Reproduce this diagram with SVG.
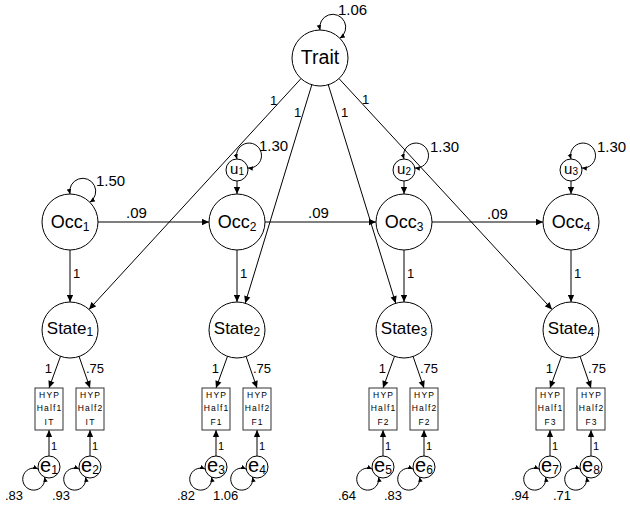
<svg xmlns="http://www.w3.org/2000/svg" width="630" height="506" viewBox="0 0 630 506">
<defs>
<marker id="ah" viewBox="0 0 10 10" refX="10" refY="5" markerWidth="8" markerHeight="7" markerUnits="userSpaceOnUse" orient="auto-start-reverse"><path d="M0,0.5 L10,5 L0,9.5 z" fill="#000"/></marker>
<marker id="sm" viewBox="0 0 10 10" refX="10" refY="5" markerWidth="5" markerHeight="5" markerUnits="userSpaceOnUse" orient="auto-start-reverse"><path d="M0,0.5 L10,5 L0,9.5 z" fill="#000"/></marker>
<style>
text{font-family:"Liberation Sans",Arial,sans-serif;fill:#000}
.c{fill:#fff;stroke:#000;stroke-width:1}
.b{fill:#fff;stroke:#333;stroke-width:1}
.ln{fill:none;stroke:#000;stroke-width:1;marker-end:url(#ah)}
.lp{fill:none;stroke:#000;stroke-width:1;marker-start:url(#sm);marker-end:url(#sm)}
.big{font-size:18px;text-anchor:middle}
.st{font-size:17px;text-anchor:middle}
.sub{font-size:12px}
.ee{font-size:20px;text-anchor:middle}
.uu{font-size:15px;text-anchor:middle}
.bx{font-size:8.5px;text-anchor:middle;letter-spacing:1.2px}
.v{font-size:15px}
.s{font-size:13px}
.t{font-size:11px}
</style>
</defs>
<g id="connectors">
<path class="lp" d="M320,30 A13 13 0 1 1 339.8,38.2"/>
<path class="lp" d="M70,194 A13 13 0 1 1 89.8,202.2"/>
<path class="lp" d="M237,159 A12.5 12.5 0 1 1 247.8,168"/>
<path class="lp" d="M404,159 A12.5 12.5 0 1 1 414.8,168"/>
<path class="lp" d="M571,159 A12.5 12.5 0 1 1 581.8,168"/>
<line class="ln" x1="301" y1="78.6" x2="89" y2="309.4"/>
<line class="ln" x1="311.8" y1="84.8" x2="245.2" y2="303.2"/>
<line class="ln" x1="328.3" y1="84.8" x2="395.7" y2="303.2"/>
<line class="ln" x1="339" y1="78.6" x2="552" y2="309.4"/>
<line class="ln" x1="98" y1="222" x2="209" y2="222"/>
<line class="ln" x1="265" y1="222" x2="376" y2="222"/>
<line class="ln" x1="432" y1="222" x2="543" y2="222"/>
<line class="ln" x1="237" y1="181" x2="237" y2="194"/>
<line class="ln" x1="404" y1="181" x2="404" y2="194"/>
<line class="ln" x1="571" y1="181" x2="571" y2="194"/>
<line class="ln" x1="70" y1="250" x2="70" y2="302"/>
<line class="ln" x1="237" y1="250" x2="237" y2="302"/>
<line class="ln" x1="404" y1="250" x2="404" y2="302"/>
<line class="ln" x1="571" y1="250" x2="571" y2="302"/>
<line class="ln" x1="60.5" y1="356.3" x2="49" y2="388"/>
<line class="ln" x1="79.1" y1="356.5" x2="90" y2="388"/>
<line class="ln" x1="227.5" y1="356.3" x2="216" y2="388"/>
<line class="ln" x1="246.1" y1="356.5" x2="257" y2="388"/>
<line class="ln" x1="394.5" y1="356.3" x2="383" y2="388"/>
<line class="ln" x1="413.1" y1="356.5" x2="424" y2="388"/>
<line class="ln" x1="561.5" y1="356.3" x2="550" y2="388"/>
<line class="ln" x1="580.1" y1="356.5" x2="591" y2="388"/>
<line class="ln" x1="49" y1="456" x2="49" y2="430"/>
<line class="ln" x1="90" y1="456" x2="90" y2="430"/>
<line class="ln" x1="216" y1="456" x2="216" y2="430"/>
<line class="ln" x1="257" y1="456" x2="257" y2="430"/>
<line class="ln" x1="383" y1="456" x2="383" y2="430"/>
<line class="ln" x1="424" y1="456" x2="424" y2="430"/>
<line class="ln" x1="550" y1="456" x2="550" y2="430"/>
<line class="ln" x1="591" y1="456" x2="591" y2="430"/>
<path class="lp" d="M38,469 A11 11 0 1 0 44.5,477"/>
<path class="lp" d="M79,469 A11 11 0 1 0 85.5,477"/>
<path class="lp" d="M205,469 A11 11 0 1 0 211.5,477"/>
<path class="lp" d="M246,469 A11 11 0 1 0 252.5,477"/>
<path class="lp" d="M372,469 A11 11 0 1 0 378.5,477"/>
<path class="lp" d="M413,469 A11 11 0 1 0 419.5,477"/>
<path class="lp" d="M539,469 A11 11 0 1 0 545.5,477"/>
<path class="lp" d="M580,469 A11 11 0 1 0 586.5,477"/>
</g>
<g id="labels">
<text class="v" x="338" y="15">1.06</text>
<text class="v" x="96" y="186">1.50</text>
<text class="v" x="259" y="151">1.30</text>
<text class="v" x="430" y="152">1.30</text>
<text class="v" x="597" y="152">1.30</text>
<text class="v" x="126" y="218">.09</text>
<text class="v" x="308" y="218">.09</text>
<text class="v" x="487" y="219">.09</text>
<text class="s" x="270" y="105">1</text>
<text class="s" x="294" y="117">1</text>
<text class="s" x="341" y="117">1</text>
<text class="s" x="362" y="104">1</text>
<text class="s" x="73" y="278">1</text>
<text class="s" x="240" y="278">1</text>
<text class="s" x="407" y="278">1</text>
<text class="s" x="574" y="278">1</text>
<text class="s" x="52" y="373" text-anchor="end">1</text>
<text class="s" x="86" y="373">.75</text>
<text class="s" x="219" y="373" text-anchor="end">1</text>
<text class="s" x="253" y="373">.75</text>
<text class="s" x="386" y="373" text-anchor="end">1</text>
<text class="s" x="420" y="373">.75</text>
<text class="s" x="553" y="373" text-anchor="end">1</text>
<text class="s" x="588" y="373">.75</text>
<text class="t" x="51" y="450">1</text>
<text class="t" x="92" y="450">1</text>
<text class="t" x="218" y="450">1</text>
<text class="t" x="259" y="450">1</text>
<text class="t" x="385" y="450">1</text>
<text class="t" x="426" y="450">1</text>
<text class="t" x="552" y="450">1</text>
<text class="t" x="593" y="450">1</text>
<text class="s" x="5" y="500">.83</text>
<text class="s" x="52" y="500">.93</text>
<text class="s" x="177" y="500">.82</text>
<text class="s" x="213" y="500">1.06</text>
<text class="s" x="338" y="500">.64</text>
<text class="s" x="384" y="500">.83</text>
<text class="s" x="511" y="500">.94</text>
<text class="s" x="553" y="500">.71</text>
</g>
<g id="Trait"><circle class="c" cx="320" cy="58" r="28"/><text x="320" y="64" style="font-size:19.5px;text-anchor:middle">Trait</text></g>
<g id="Occ1"><circle class="c" cx="70" cy="222" r="28"/><text class="big" x="70" y="228">Occ<tspan class="sub" dy="3">1</tspan></text></g>
<g id="Occ2"><circle class="c" cx="237" cy="222" r="28"/><text class="big" x="237" y="228">Occ<tspan class="sub" dy="3">2</tspan></text></g>
<g id="Occ3"><circle class="c" cx="404" cy="222" r="28"/><text class="big" x="404" y="228">Occ<tspan class="sub" dy="3">3</tspan></text></g>
<g id="Occ4"><circle class="c" cx="571" cy="222" r="28"/><text class="big" x="571" y="228">Occ<tspan class="sub" dy="3">4</tspan></text></g>
<g id="u1"><circle class="c" cx="237" cy="170" r="11"/><text class="uu" x="237" y="173.5">u<tspan class="sub" dy="1.5" style="font-size:10px">1</tspan></text></g>
<g id="u2"><circle class="c" cx="404" cy="170" r="11"/><text class="uu" x="404" y="173.5">u<tspan class="sub" dy="1.5" style="font-size:10px">2</tspan></text></g>
<g id="u3"><circle class="c" cx="571" cy="170" r="11"/><text class="uu" x="571" y="173.5">u<tspan class="sub" dy="1.5" style="font-size:10px">3</tspan></text></g>
<g id="State1"><circle class="c" cx="70" cy="330" r="28"/><text class="st" x="70" y="334">State<tspan class="sub" dy="2">1</tspan></text></g>
<g id="State2"><circle class="c" cx="237" cy="330" r="28"/><text class="st" x="237" y="334">State<tspan class="sub" dy="2">2</tspan></text></g>
<g id="State3"><circle class="c" cx="404" cy="330" r="28"/><text class="st" x="404" y="334">State<tspan class="sub" dy="2">3</tspan></text></g>
<g id="State4"><circle class="c" cx="571" cy="330" r="28"/><text class="st" x="571" y="334">State<tspan class="sub" dy="2">4</tspan></text></g>
<g id="HYP_Half1_IT"><rect class="b" x="35" y="388" width="28" height="42"/><text class="bx" x="49.6" y="398">HYP</text><text class="bx" x="49.6" y="411">Half1</text><text class="bx" x="49.6" y="425">IT</text></g>
<g id="HYP_Half2_IT"><rect class="b" x="76" y="388" width="28" height="42"/><text class="bx" x="90.6" y="398">HYP</text><text class="bx" x="90.6" y="411">Half2</text><text class="bx" x="90.6" y="425">IT</text></g>
<g id="HYP_Half1_F1"><rect class="b" x="202" y="388" width="28" height="42"/><text class="bx" x="216.6" y="398">HYP</text><text class="bx" x="216.6" y="411">Half1</text><text class="bx" x="216.6" y="425">F1</text></g>
<g id="HYP_Half2_F1"><rect class="b" x="243" y="388" width="28" height="42"/><text class="bx" x="257.6" y="398">HYP</text><text class="bx" x="257.6" y="411">Half2</text><text class="bx" x="257.6" y="425">F1</text></g>
<g id="HYP_Half1_F2"><rect class="b" x="369" y="388" width="28" height="42"/><text class="bx" x="383.6" y="398">HYP</text><text class="bx" x="383.6" y="411">Half1</text><text class="bx" x="383.6" y="425">F2</text></g>
<g id="HYP_Half2_F2"><rect class="b" x="410" y="388" width="28" height="42"/><text class="bx" x="424.6" y="398">HYP</text><text class="bx" x="424.6" y="411">Half2</text><text class="bx" x="424.6" y="425">F2</text></g>
<g id="HYP_Half1_F3"><rect class="b" x="536" y="388" width="28" height="42"/><text class="bx" x="550.6" y="398">HYP</text><text class="bx" x="550.6" y="411">Half1</text><text class="bx" x="550.6" y="425">F3</text></g>
<g id="HYP_Half2_F3"><rect class="b" x="577" y="388" width="28" height="42"/><text class="bx" x="591.6" y="398">HYP</text><text class="bx" x="591.6" y="411">Half2</text><text class="bx" x="591.6" y="425">F3</text></g>
<g id="e1"><circle class="c" cx="49" cy="467" r="11"/><text class="ee" x="49" y="472">e<tspan class="sub" dy="2">1</tspan></text></g>
<g id="e2"><circle class="c" cx="90" cy="467" r="11"/><text class="ee" x="90" y="472">e<tspan class="sub" dy="2">2</tspan></text></g>
<g id="e3"><circle class="c" cx="216" cy="467" r="11"/><text class="ee" x="216" y="472">e<tspan class="sub" dy="2">3</tspan></text></g>
<g id="e4"><circle class="c" cx="257" cy="467" r="11"/><text class="ee" x="257" y="472">e<tspan class="sub" dy="2">4</tspan></text></g>
<g id="e5"><circle class="c" cx="383" cy="467" r="11"/><text class="ee" x="383" y="472">e<tspan class="sub" dy="2">5</tspan></text></g>
<g id="e6"><circle class="c" cx="424" cy="467" r="11"/><text class="ee" x="424" y="472">e<tspan class="sub" dy="2">6</tspan></text></g>
<g id="e7"><circle class="c" cx="550" cy="467" r="11"/><text class="ee" x="550" y="472">e<tspan class="sub" dy="2">7</tspan></text></g>
<g id="e8"><circle class="c" cx="591" cy="467" r="11"/><text class="ee" x="591" y="472">e<tspan class="sub" dy="2">8</tspan></text></g>
</svg>
